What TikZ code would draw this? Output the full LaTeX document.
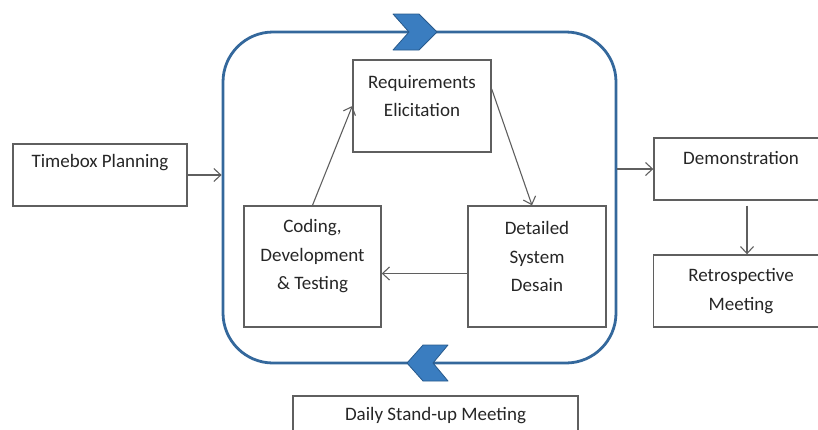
\documentclass[tikz,border=0pt]{standalone}
\usepackage{fontspec}
\setmainfont{Carlito}
\usepackage{tikz}
\usetikzlibrary{arrows.meta, positioning}

\definecolor{sprintblue}{RGB}{52,104,156}
\definecolor{chevfill}{RGB}{58,125,192}
\definecolor{chevline}{RGB}{40,90,140}
\definecolor{boxgrey}{RGB}{95,95,95}

\begin{document}
\begin{tikzpicture}[
  x=1pt, y=-1pt,
  every node/.style={font=\fontsize{19}{28.5}\selectfont, align=center, text=black!85},
  box/.style={draw=boxgrey, line width=1.4pt, rectangle, inner sep=0pt},
  lbl/.style={inner sep=0pt},
  sprint/.style={draw=sprintblue, line width=2.8pt, rounded corners=50pt,
                 minimum width=393pt, minimum height=331pt, inner sep=0pt},
  chev/.style={fill=chevfill, draw=chevline, line width=0.8pt, line join=round},
  arr/.style={-{Straight Barb[length=7pt, width=13pt]}, draw=boxgrey, line width=1.1pt}
]
  \clip (0,0) rectangle (818,429);

  % --- Sprint loop ---
  \node[sprint] (sprint) at (419.5,197.5) {};
  \fill[chev] (393,14) -- (419,14) -- (437,32) -- (419,50) -- (393,50) -- (409,32) -- cycle;
  \fill[chev] (448,345) -- (423,345) -- (407,363) -- (423,381) -- (448,381) -- (433,363) -- cycle;

  % --- Boxes inside the sprint ---
  \node[box, minimum width=138pt, minimum height=92pt]  (req) at (422,106) {};
  \node[lbl] (reqtxt) at ([yshift=10pt]req.center) {Requirements\\Elicitation};

  \node[box, minimum width=137pt, minimum height=121pt] (cod) at (312.5,266.5) {};
  \node[lbl] (codtxt) at ([yshift=10pt]cod.center) {Coding,\\Development\\\& Testing};

  \node[box, minimum width=138pt, minimum height=121pt] (det) at (537,266.5) {};
  \node[lbl] (dettxt) at ([yshift=10pt]det.center) {Detailed\\System\\Desain};

  % --- Outside boxes ---
  \node[box, minimum width=174pt, minimum height=62pt] (plan) at (100,175) {};
  \node[lbl] (plantxt) at ([yshift=12pt]plan.center) {Timebox Planning};

  \node[box, minimum width=174pt, minimum height=62pt] (demo) at (741,169) {};
  \node[lbl] (demotxt) at ([yshift=11pt]demo.center) {Demonstration};

  \node[box, minimum width=175pt, minimum height=72pt] (retro) at (741,291) {};
  \node[lbl] (retrotxt) at (retro.center) {Retrospective\\Meeting};

  \node[box, minimum width=285pt, minimum height=50pt] (daily) at (435.5,421) {};
  \node[lbl] (dailytxt) at ([yshift=5pt]daily.center) {Daily Stand-up Meeting};

  % --- Arrows ---
  \draw[arr] (plan.east) -- (plan.east -| sprint.west);
  \draw[arr] (cod.north) -- (req.west);
  \draw[arr] ([yshift=17pt]req.east) -- ([xshift=-5pt]det.north);
  \draw[arr] ([yshift=-7pt]det.west) -- ([yshift=-7pt]cod.east);
  \draw[arr] (demo.west -| sprint.east) -- (demo.west);
  \draw[arr] ([xshift=6pt, yshift=-5pt]demo.south) -- ([xshift=6pt]retro.north);

\end{tikzpicture}
\end{document}
